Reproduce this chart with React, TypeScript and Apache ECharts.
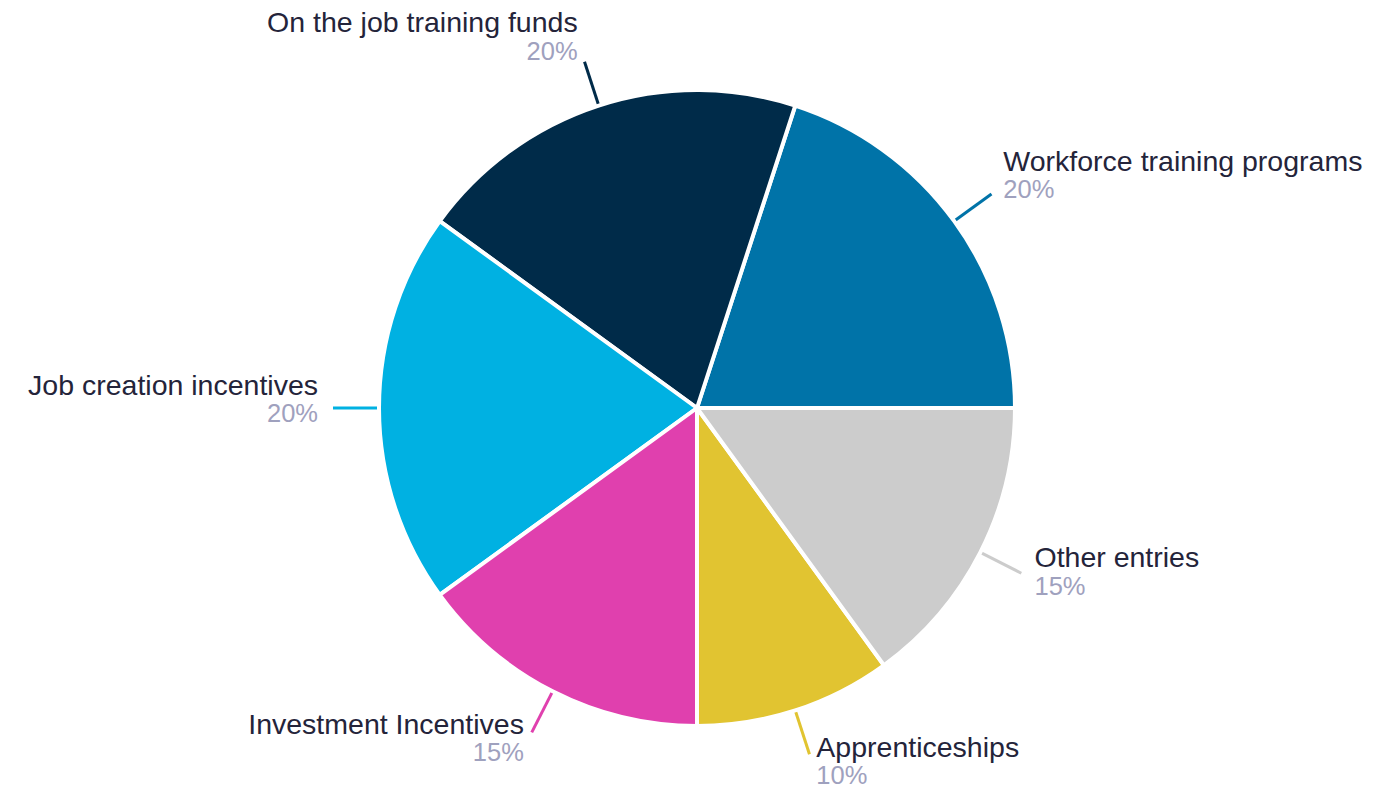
import React, { useEffect, useRef } from "react";
import * as echarts from "echarts";

const categories = [
  "Workforce training programs",
  "On the job training funds",
  "Job creation incentives",
  "Investment Incentives",
  "Apprenticeships",
  "Other entries",
];
const values = [20, 20, 20, 15, 10, 15];
const colors = ["#0073A8", "#002B49", "#00B1E2", "#E040AE", "#E1C431", "#CCCCCC"];

export default function App() {
  const ref = useRef<HTMLDivElement>(null);
  useEffect(() => {
    if (!ref.current) return;
    const chart = echarts.init(ref.current, undefined, { renderer: "svg" });
    chart.setOption({
      animation: false,
      backgroundColor: "#ffffff",
      series: [
        {
          type: "pie",
          center: [697, 408],
          radius: 318,
          startAngle: 0,
          clockwise: false,
          avoidLabelOverlap: false,
          itemStyle: { borderColor: "#ffffff", borderWidth: 4 },
          label: {
            show: true,
            position: "outside",
            formatter: "{n|{b}}\n{p|{c}%}",
            distanceToLabelLine: 6,
            rich: {
              n: {
                fontFamily: "Liberation Sans, Arial, sans-serif",
                fontSize: 28.5,
                color: "#24243a",
                lineHeight: 30,
              },
              p: {
                fontFamily: "Liberation Sans, Arial, sans-serif",
                fontSize: 25.5,
                color: "#9fa1be",
                lineHeight: 27,
              },
            },
          },
          labelLine: {
            show: true,
            length: 46,
            length2: 0,
            smooth: false,
            lineStyle: { width: 3 },
          },
          labelLayout: (params: any) => {
            const pts = params.labelLinePoints;
            if (!pts || pts.length < 2) return {};
            const vx = pts[1][0] - pts[0][0];
            const vy = pts[1][1] - pts[0][1];
            const len = Math.sqrt(vx * vx + vy * vy) || 1;
            const c = vx / len;
            const s = -vy / len;
            return {
              dx: 9 * c * Math.abs(c),
              dy: -10 - 17 * s,
              labelLinePoints: pts,
            };
          },
          data: categories.map((name, i) => ({
            name,
            value: values[i],
            itemStyle: { color: colors[i] },
            labelLine: { lineStyle: { color: colors[i] } },
          })),
        },
      ],
    });
    return () => chart.dispose();
  }, []);
  return (
    <div
      ref={ref}
      style={{ position: "fixed", left: 0, top: 0, width: 1378, height: 790 }}
    />
  );
}
